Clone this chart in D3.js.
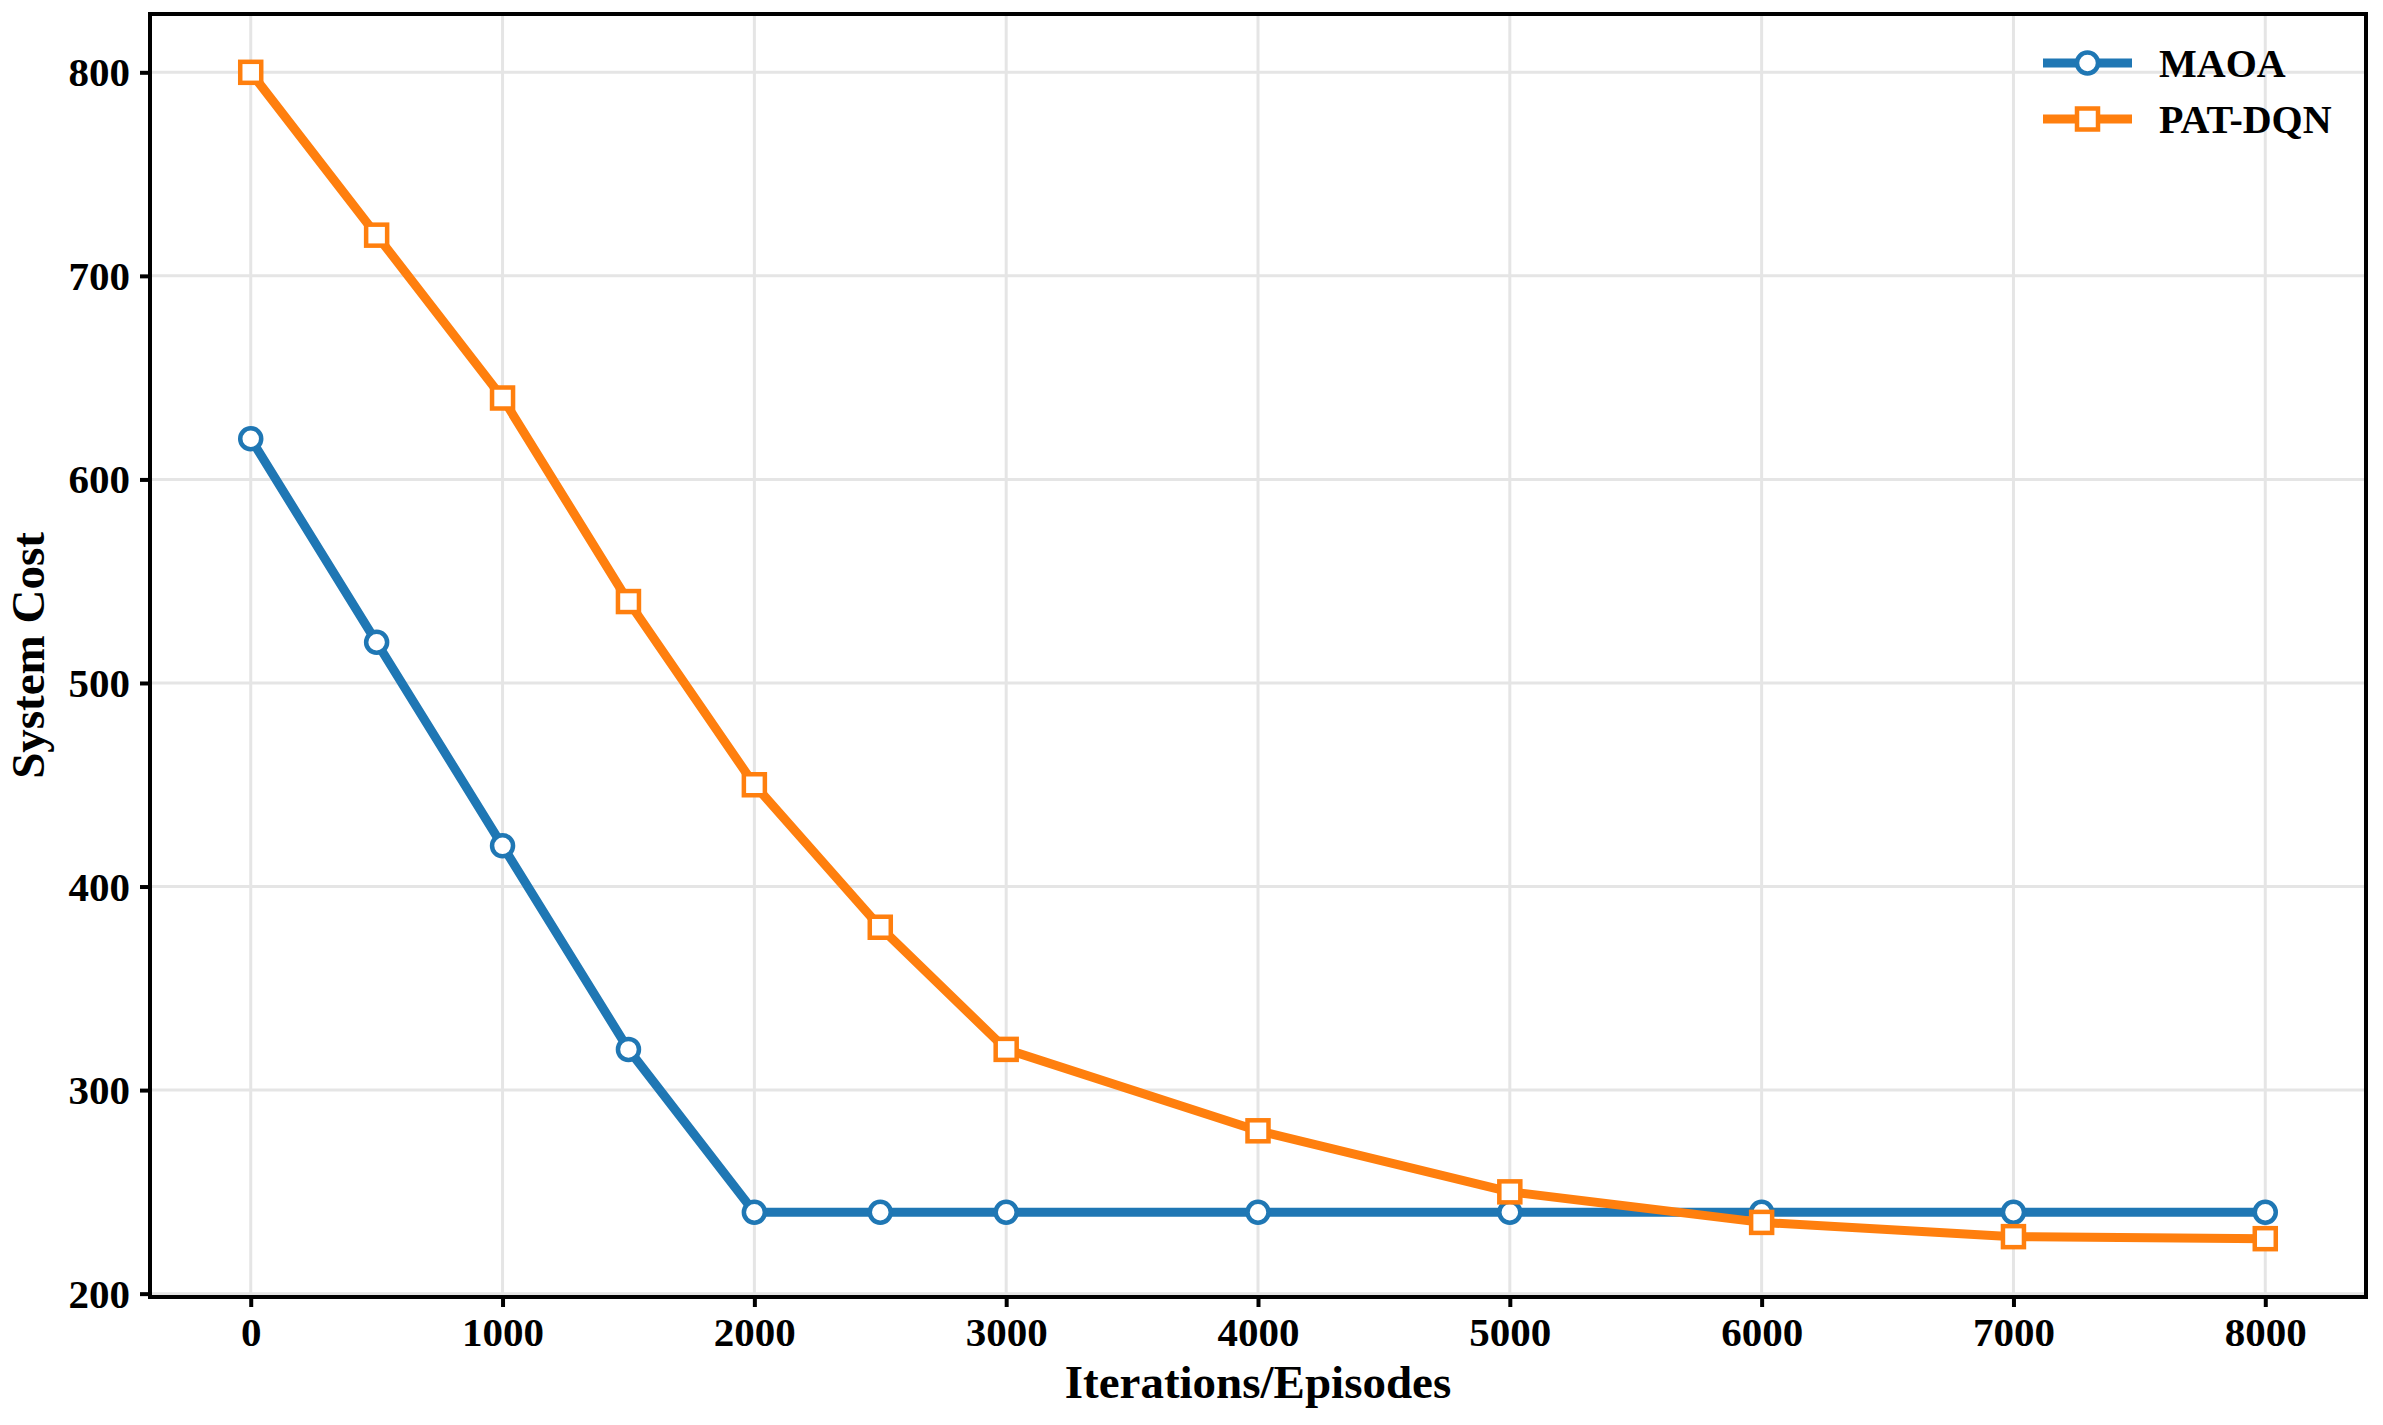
<!DOCTYPE html>
<html><head><meta charset="utf-8">
<script src="https://cdn.jsdelivr.net/npm/d3@7"></script>
<style>body{margin:0;background:#fff;} text{font-family:"Liberation Serif","Times New Roman",serif;font-weight:bold;}</style>
</head><body>
<svg id="c" width="2383" height="1425"></svg>
<script>
const episodes = [0,500,1000,1500,2000,2500,3000,4000,5000,6000,7000,8000];
const maoa =   [620,520,420,320,240,240,240,240,240,240,240,240];
const patdqn = [800,720,640,540,450,380,320,280,250,235,228,227];
const xTicks = [0,1000,2000,3000,4000,5000,6000,7000,8000];
const yTicks = [200,300,400,500,600,700,800];
const seriesNames = ["MAOA","PAT-DQN"];

const svg = d3.select("#c");
const L=150, R=2366, T=14, B=1297;
const x = d3.scaleLinear().domain([-400,8400]).range([L,R]);
const y = d3.scaleLinear().domain([198.35,828.65]).range([B,T]);

// grid
const g = svg.append("g");
g.selectAll(".gx").data(xTicks).enter().append("line")
 .attr("x1",d=>x(d)).attr("x2",d=>x(d)).attr("y1",T).attr("y2",B)
 .attr("stroke","#e5e5e5").attr("stroke-width",3);
g.selectAll(".gy").data(yTicks).enter().append("line")
 .attr("y1",d=>y(d)).attr("y2",d=>y(d)).attr("x1",L).attr("x2",R)
 .attr("stroke","#e5e5e5").attr("stroke-width",3);

// axes
const xAxis = d3.axisBottom(x).tickValues(xTicks).tickSize(10).tickPadding(10).tickFormat(d3.format("d"));
const yAxis = d3.axisLeft(y).tickValues(yTicks).tickSize(10).tickPadding(10).tickFormat(d3.format("d"));
const ax = svg.append("g").attr("transform",`translate(0,${B})`).call(xAxis);
const ay = svg.append("g").attr("transform",`translate(${L},0)`).call(yAxis);
[ax,ay].forEach(a=>{
  a.select(".domain").remove();
  a.selectAll(".tick line").attr("stroke","#000").attr("stroke-width",4);
  a.selectAll(".tick text").attr("fill","#000").style("font-size","41px");
});
ax.selectAll(".tick text").attr("dy","0.71em");
ay.selectAll(".tick text").attr("dy","0.33em");

const colors = ["#1f77b4","#ff7f0e"];
const line = d3.line().x((d,i)=>x(episodes[i])).y(d=>y(d));
const data = [maoa, patdqn];
data.forEach((s,k)=>{
  svg.append("path").datum(s).attr("d",line).attr("fill","none")
    .attr("stroke",colors[k]).attr("stroke-width",9).attr("stroke-linejoin","round");
  if(k===0){
    svg.selectAll(".m0").data(s).enter().append("circle")
      .attr("cx",(d,i)=>x(episodes[i])).attr("cy",d=>y(d)).attr("r",10.5)
      .attr("fill","#fff").attr("stroke",colors[k]).attr("stroke-width",4.5);
  } else {
    svg.selectAll(".m1").data(s).enter().append("rect")
      .attr("x",(d,i)=>x(episodes[i])-10.5).attr("y",d=>y(d)-10.5)
      .attr("width",21).attr("height",21)
      .attr("fill","#fff").attr("stroke",colors[k]).attr("stroke-width",4.5);
  }
});

// frame
svg.append("rect").attr("x",L).attr("y",T).attr("width",R-L).attr("height",B-T)
  .attr("fill","none").attr("stroke","#000").attr("stroke-width",4);

// legend
const leg = svg.append("g");
seriesNames.forEach((n,k)=>{
  const ly = 63 + k*56;
  leg.append("line").attr("x1",2043).attr("x2",2132).attr("y1",ly).attr("y2",ly)
    .attr("stroke",colors[k]).attr("stroke-width",9);
  if(k===0) leg.append("circle").attr("cx",2087.5).attr("cy",ly).attr("r",10.5)
    .attr("fill","#fff").attr("stroke",colors[k]).attr("stroke-width",4.5);
  else leg.append("rect").attr("x",2077).attr("y",ly-10.5).attr("width",21).attr("height",21)
    .attr("fill","#fff").attr("stroke",colors[k]).attr("stroke-width",4.5);
  leg.append("text").attr("x",2159).attr("y",ly).attr("dy","0.35em")
    .style("font-size","40px").text(n);
});

// axis labels
svg.append("text").attr("x",(L+R)/2).attr("y",1398).attr("text-anchor","middle")
  .style("font-size","47px").text("Iterations/Episodes");
svg.append("text").attr("transform",`translate(44,${(T+B)/2}) rotate(-90)`)
  .attr("text-anchor","middle").style("font-size","47px").text("System Cost");
</script>
</body></html>
